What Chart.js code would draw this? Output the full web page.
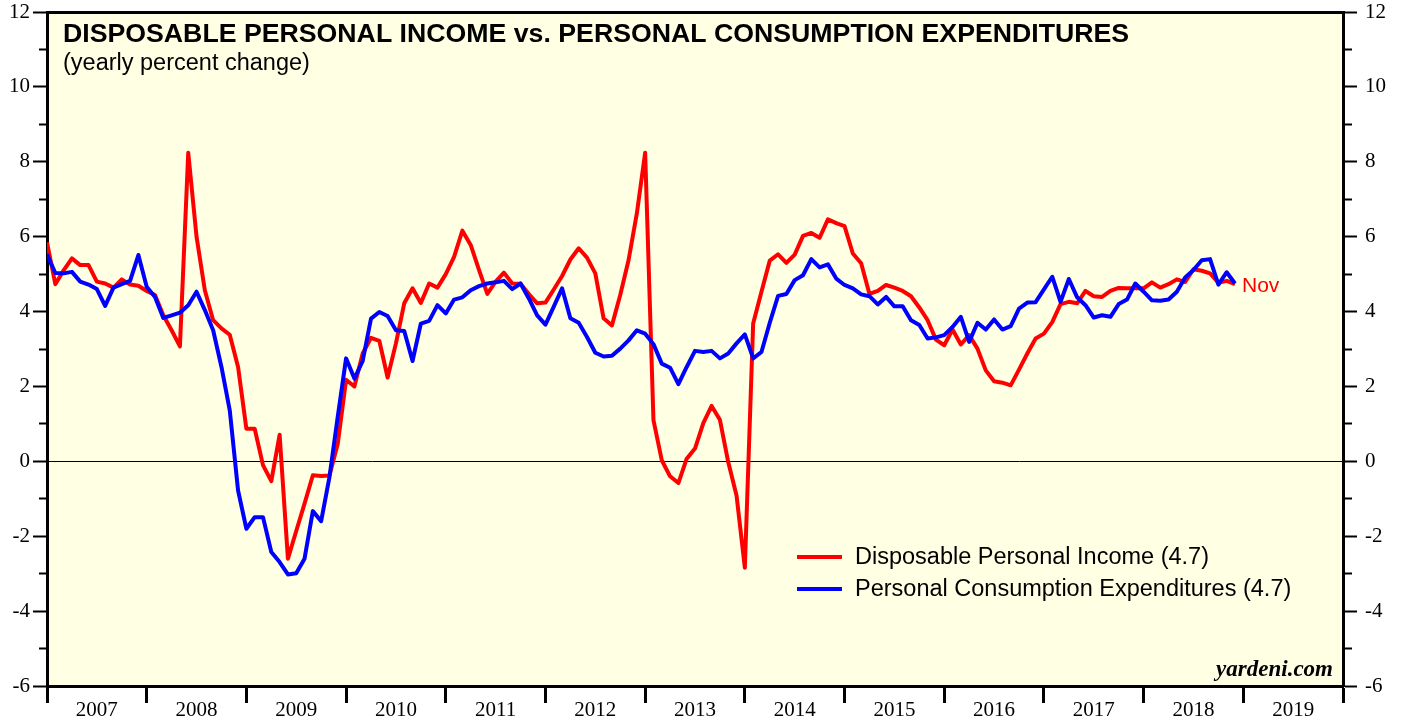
<!DOCTYPE html>
<html>
<head>
<meta charset="utf-8">
<script src="https://cdn.jsdelivr.net/npm/chart.js@4.4.1/dist/chart.umd.min.js"></script>
<style>
  html, body { margin: 0; padding: 0; background: #ffffff; }
  #wrap { width: 1403px; height: 719px; position: relative; }
</style>
</head>
<body>
<div id="wrap"><canvas id="c" width="1403" height="719"></canvas></div>
<script>
// ---- DATA ----
const yearLabels = ['2007','2008','2009','2010','2011','2012','2013','2014','2015','2016','2017','2018','2019'];
const firstYear = 2006, firstMonth = 12; // first observation: Dec 2006
const dpi = [
  5.85,4.73,5.1,5.42,5.24,5.24,4.8,4.75,4.64,4.86,4.72,4.69,
  4.55,4.44,3.9,3.5,3.07,8.24,6.0,4.57,3.77,3.55,3.38,2.52,
  0.87,0.87,-0.1,-0.53,0.71,-2.6,-1.86,-1.13,-0.37,-0.39,-0.38,0.47,
  2.18,2.0,2.88,3.3,3.22,2.24,3.15,4.22,4.62,4.23,4.75,4.64,
  5.0,5.46,6.16,5.78,5.11,4.47,4.8,5.04,4.75,4.74,4.47,4.22,
  4.24,4.59,4.95,5.39,5.69,5.44,5.02,3.82,3.63,4.44,5.37,6.62,
  8.24,1.1,0.03,-0.4,-0.58,0.07,0.34,1.02,1.48,1.11,-0.02,-0.91,
  -2.84,3.68,4.53,5.36,5.53,5.3,5.52,6.02,6.1,5.97,6.46,6.36,
  6.28,5.55,5.29,4.47,4.55,4.71,4.64,4.55,4.41,4.11,3.77,3.25,
  3.1,3.52,3.12,3.37,3.01,2.43,2.14,2.1,2.03,2.45,2.88,3.28,
  3.41,3.72,4.2,4.26,4.22,4.55,4.41,4.39,4.55,4.63,4.62,4.62,
  4.62,4.78,4.64,4.73,4.86,4.79,5.13,5.09,5.02,4.77,4.82,4.73
];
const pce = [
  5.53,5.03,5.02,5.06,4.8,4.72,4.6,4.15,4.64,4.73,4.82,5.51,
  4.66,4.39,3.83,3.9,3.97,4.17,4.53,4.04,3.5,2.52,1.36,-0.78,
  -1.8,-1.49,-1.49,-2.42,-2.69,-3.02,-2.99,-2.6,-1.33,-1.6,-0.42,1.2,
  2.75,2.21,2.68,3.81,3.99,3.88,3.5,3.48,2.68,3.68,3.75,4.17,
  3.95,4.32,4.38,4.57,4.68,4.75,4.78,4.82,4.6,4.75,4.35,3.9,
  3.65,4.13,4.62,3.82,3.7,3.32,2.9,2.8,2.82,3.01,3.23,3.5,
  3.41,3.13,2.61,2.5,2.06,2.52,2.95,2.92,2.95,2.75,2.88,3.15,
  3.39,2.75,2.92,3.7,4.42,4.47,4.84,4.97,5.4,5.18,5.26,4.88,
  4.71,4.62,4.46,4.41,4.19,4.39,4.14,4.14,3.77,3.64,3.28,3.31,
  3.37,3.59,3.86,3.19,3.7,3.52,3.79,3.52,3.61,4.08,4.24,4.25,
  4.59,4.93,4.26,4.87,4.38,4.17,3.84,3.9,3.86,4.2,4.32,4.75,
  4.53,4.3,4.29,4.32,4.53,4.91,5.11,5.37,5.4,4.72,5.05,4.75
];
const seriesNames = ['Disposable Personal Income (4.7)', 'Personal Consumption Expenditures (4.7)'];
const yTickMin = -6, yTickMax = 12;
const titleText = 'DISPOSABLE PERSONAL INCOME vs. PERSONAL CONSUMPTION EXPENDITURES';
const subtitleText = '(yearly percent change)';
const lastLabel = 'Nov';
const sourceText = 'yardeni.com';

// month categories (Dec 2006 ... Nov 2018); x position = months since end of Dec 2006
const monthNames = ['Jan','Feb','Mar','Apr','May','Jun','Jul','Aug','Sep','Oct','Nov','Dec'];
const months = dpi.map((_, i) => {
  const m = (firstMonth - 1 + i) % 12;
  const y = firstYear + Math.floor((firstMonth - 1 + i) / 12);
  return monthNames[m] + ' ' + y;
});
const toPts = arr => arr.map((v, i) => ({ x: i, y: v, label: months[i] }));

const RED = '#ff0000', BLUE = '#0000ff';
const SANS = '"Liberation Sans", Arial, Helvetica, sans-serif';
const SERIF = '"Liberation Serif", "Times New Roman", serif';
const BG = 'rgb(255,255,228)';

const xMax = yearLabels.length * 12;
const xTickValues = [];
for (let k = 0; k <= yearLabels.length; k++) {
  xTickValues.push(k * 12);
  if (k < yearLabels.length) xTickValues.push(k * 12 + 6);
}

const bgPlugin = {
  id: 'bg',
  beforeDraw(chart) {
    const { ctx, chartArea: a } = chart;
    ctx.save();
    ctx.fillStyle = BG;
    ctx.fillRect(a.left, a.top, a.right - a.left, a.bottom - a.top);
    ctx.restore();
  }
};

const textPlugin = {
  id: 'texts',
  afterDatasetsDraw(chart) {
    const { ctx, chartArea: a } = chart;
    ctx.save();
    ctx.fillStyle = '#000';
    ctx.textAlign = 'left';
    ctx.textBaseline = 'alphabetic';
    ctx.font = 'bold 26.7px ' + SANS;
    ctx.fillText(titleText, a.left + 16, 42);
    ctx.font = '23.5px ' + SANS;
    ctx.fillText(subtitleText, a.left + 16, 70);

    // legend
    const ds = chart.data.datasets;
    const legY = [557, 589];
    ds.forEach((d, k) => {
      ctx.strokeStyle = d.borderColor;
      ctx.lineWidth = 4;
      ctx.beginPath();
      ctx.moveTo(797, legY[k]);
      ctx.lineTo(842, legY[k]);
      ctx.stroke();
      ctx.fillStyle = '#000';
      ctx.font = '23.5px ' + SANS;
      ctx.textBaseline = 'middle';
      ctx.fillText(d.label, 855, legY[k] + 1);
    });

    // last-point label
    const meta = chart.getDatasetMeta(0);
    const last = meta.data[meta.data.length - 1];
    ctx.fillStyle = RED;
    ctx.font = '21px ' + SANS;
    ctx.textBaseline = 'middle';
    ctx.fillText(lastLabel, last.x + 7, 286);

    // source
    ctx.fillStyle = '#000';
    ctx.font = 'italic bold 23px ' + SERIF;
    ctx.textAlign = 'right';
    ctx.textBaseline = 'alphabetic';
    ctx.fillText(sourceText, a.right - 10, 676);
    ctx.restore();
  }
};

const tickFont = { family: SERIF, size: 21 };
const noPadV = s => { s.paddingTop = 0; s.paddingBottom = 0; };
const noPadH = s => { s.paddingLeft = 0; s.paddingRight = 0; };

new Chart(document.getElementById('c'), {
  type: 'line',
  data: {
    datasets: [
      { label: seriesNames[0], data: toPts(dpi), borderColor: RED, backgroundColor: RED,
        borderWidth: 4, pointRadius: 0, tension: 0, borderJoinStyle: 'round', order: 1, yAxisID: 'y', xAxisID: 'x' },
      { label: seriesNames[1], data: toPts(pce), borderColor: BLUE, backgroundColor: BLUE,
        borderWidth: 4, pointRadius: 0, tension: 0, borderJoinStyle: 'round', order: 0, yAxisID: 'y', xAxisID: 'x' }
    ]
  },
  options: {
    responsive: false,
    animation: false,
    devicePixelRatio: 1,
    layout: { padding: 0 },
    plugins: { legend: { display: false }, tooltip: { enabled: false }, title: { display: false } },
    scales: {
      x: {
        type: 'linear', position: 'bottom', min: 0, max: xMax,
        afterBuildTicks: s => { s.ticks = xTickValues.map(v => ({ value: v })); },
        afterFit: s => { s.height = 33; noPadH(s); },
        ticks: {
          autoSkip: false, maxRotation: 0, minRotation: 0, padding: -5, color: '#000', font: tickFont,
          callback: v => (v % 12 === 6 ? yearLabels[(v - 6) / 12] : '')
        },
        grid: {
          drawOnChartArea: false, drawTicks: true, tickLength: 17, tickWidth: 3,
          tickColor: c => (c.tick && c.tick.value % 12 === 0 ? '#000' : 'rgba(0,0,0,0)')
        },
        border: { display: true, color: '#000', width: 3 }
      },
      xTop: {
        type: 'linear', position: 'top', min: 0, max: xMax,
        afterFit: s => { s.height = 12; noPadH(s); },
        ticks: { display: false },
        grid: { display: false, drawTicks: false },
        border: { display: true, color: '#000', width: 3 }
      },
      y: {
        type: 'linear', position: 'left', min: yTickMin, max: yTickMax,
        afterFit: s => { s.width = 47; noPadV(s); },
        ticks: {
          stepSize: 1, autoSkip: false, padding: 3, color: '#000', font: tickFont,
          callback: v => (v % 2 === 0 ? String(v) : '')
        },
        grid: {
          drawOnChartArea: true, lineWidth: 1,
          color: c => (c.tick && c.tick.value === 0 ? '#000' : 'rgba(0,0,0,0)'),
          tickLength: 14, tickWidth: 2, tickColor: '#000',
          tickBorderDash: c => (c.tick && Math.abs(c.tick.value % 2) === 1 ? [0, 6, 30] : [])
        },
        border: { display: true, color: '#000', width: 3 }
      },
      y2: {
        type: 'linear', position: 'right', min: yTickMin, max: yTickMax,
        afterFit: s => { s.width = 60; noPadV(s); },
        ticks: {
          stepSize: 1, autoSkip: false, padding: 8, color: '#000', font: tickFont,
          callback: v => (v % 2 === 0 ? String(v) : '')
        },
        grid: {
          drawOnChartArea: false, tickLength: 14, tickWidth: 2, tickColor: '#000',
          tickBorderDash: c => (c.tick && Math.abs(c.tick.value % 2) === 1 ? [7, 30] : [])
        },
        border: { display: true, color: '#000', width: 3 }
      }
    }
  },
  plugins: [bgPlugin, textPlugin]
});
</script>
</body>
</html>
